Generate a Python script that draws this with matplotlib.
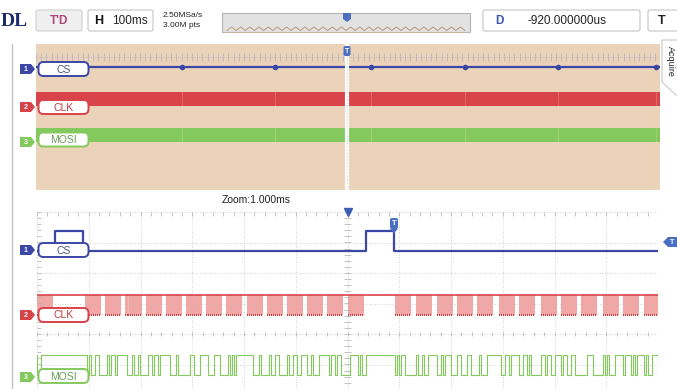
import matplotlib.pyplot as plt
import numpy as np
from matplotlib.patches import FancyBboxPatch, Rectangle, Polygon

plt.rcParams['font.family'] = ['Liberation Sans', 'DejaVu Sans']

# main window: 100 ms/div, 12 divisions
main_trigger_ms = 598
cs_pulse_ms = [281, 460, 644, 825, 1004, 1192]

# zoom window: 100 us/div, 12 divisions
zoom_center_us = 600
zoom_trigger_us = 689
cs_high_us = [(35, 89), (635, 689)]
clk_burst_start_us = [0, 93, 132, 171, 210, 249, 288, 327, 366, 405, 444, 483, 522, 561, 600,
                      691, 732, 772, 811, 851, 892, 932, 973, 1012, 1052, 1093, 1133, 1172]
clk_burst_len_us = 31
mosi_bytes = [0x3F, 0xA6, 0x5B, 0x92, 0x6D, 0xC4, 0x31, 0x8E, 0x57, 0xE2, 0x4C, 0x99, 0x23, 0xB6,
              0x7A, 0x58, 0x93, 0x2E, 0xC6, 0x47, 0x9B, 0x34, 0xD9, 0x66, 0x1C, 0xA3, 0x75, 0x4E]

# channel positions in divisions and amplitude
ch_offset = {'CS': 2.72, 'CLK': 0.62, 'MOSI': -1.35}
ch_amp = 0.67
col_cs = '#3a47a6'
col_clk = '#d9434a'
col_mosi = '#84c95e'

W, H = 677, 389
fig = plt.figure(figsize=(W / 100, H / 100), dpi=100)
fig.patch.set_facecolor('white')


def px_axes(x0, y0, x1, y1):
    return fig.add_axes([x0 / W, (H - y1) / H, (x1 - x0) / W, (y1 - y0) / H])


# ---------- main (overview) panel ----------
up = px_axes(36, 44, 660, 190)
up.set_xlim(0, 1200)
up.set_ylim(-4, 4)
up.set_facecolor('#ebd3b9')
for s in up.spines.values():
    s.set_visible(False)
up.set_xticks([])
up.set_yticks([])

# top tick row
up.axhline(3.29, color='#b9b3c9', lw=0.6, ls=(0, (1, 1.5)))
up.vlines(np.arange(0, 1201, 10), 3.07, 3.51, color='#aaa6c4', lw=0.5, alpha=0.8)

lo_cs = ch_offset['CS']
up.plot([0, 1200], [lo_cs, lo_cs], color=col_cs, lw=1.6, solid_capstyle='butt')
up.plot(cs_pulse_ms, [lo_cs] * len(cs_pulse_ms), 'o', color=col_cs, ms=3)
for name, col in (('CLK', col_clk), ('MOSI', col_mosi)):
    lo = ch_offset[name]
    up.fill_between([0, 1200], lo - 0.04, lo + ch_amp + 0.06, color=col, lw=0)
    up.vlines(cs_pulse_ms, lo - 0.1, lo + ch_amp + 0.15, color='#f4e0d0', lw=0.5, alpha=0.35)

up.axvline(main_trigger_ms, color='white', lw=3)
up.axvline(main_trigger_ms, color='#cfcfcf', lw=0.8, ls=(0, (1, 2)))

# ---------- zoom panel ----------
lo_ax = px_axes(37, 212, 658, 456)
lo_ax.set_xlim(0, 1200)
lo_ax.set_ylim(-4, 4)
lo_ax.set_facecolor('white')
for s in lo_ax.spines.values():
    s.set_visible(False)
lo_ax.set_xticks([])
lo_ax.set_yticks([])

grid_kw = dict(color='#c4c4c4', lw=0.6, ls=(0, (1, 2)))
for gx in range(0, 1201, 100):
    lo_ax.axvline(gx, **grid_kw)
for gy in range(-4, 5):
    lo_ax.axhline(gy, **grid_kw)
minor_x = np.arange(0, 1201, 20)
minor_y = np.arange(-4, 4.01, 0.2)
lo_ax.vlines(minor_x, 3.88, 4.0, color='#b8b8b8', lw=0.6)
lo_ax.vlines(minor_x, -0.07, 0.07, color='#b8b8b8', lw=0.6)
lo_ax.hlines(minor_y, 594, 606, color='#b8b8b8', lw=0.6)
lo_ax.hlines(minor_y, 0, 8, color='#b8b8b8', lw=0.6)

# CS
cs_t = [0]
cs_v = [0]
for a, b in cs_high_us:
    cs_t += [a, a, b, b]
    cs_v += [0, 1, 1, 0]
cs_t.append(1200)
cs_v.append(0)
lo_ax.plot(cs_t, np.array(cs_v) * ch_amp + ch_offset['CS'], color=col_cs, lw=1.6)

# CLK: 8 clocks per byte, idle high
clo = ch_offset['CLK']
chi = clo + ch_amp
period = clk_burst_len_us / 8
for s in clk_burst_start_us:
    e = min(s + clk_burst_len_us, 1200)
    lo_ax.fill_between([s, e], clo, chi, color='#f4b7b5', lw=0)
    edges = s + np.arange(16) * period / 2
    lo_ax.vlines(edges[edges < 1200], clo, chi, color='#e98a8a', lw=0.5, alpha=0.5)
    lows = s + np.arange(8) * period
    lo_ax.hlines(np.full(8, clo), lows, np.minimum(lows + period / 2, 1200), color='#cc2f36', lw=1.3)
lo_ax.plot([0, 1200], [chi, chi], color=col_clk, lw=1.2)

# MOSI: idle high while CS is high
mt = [0]
mv = [1]
for s, byte in zip(clk_burst_start_us, mosi_bytes):
    for k in range(8):
        bit = (byte >> (7 - k)) & 1
        t = s + k * period
        mt += [t, t]
        mv += [mv[-1], bit]
    for a, b in cs_high_us:
        if s + clk_burst_len_us < a and (s + clk_burst_len_us + 20) > a:
            mt += [a, a]
            mv += [mv[-1], 1]
mt.append(1200)
mv.append(mv[-1])
mt = np.array(mt)
lo_ax.plot(mt, np.array(mv) * ch_amp + ch_offset['MOSI'], color=col_mosi, lw=0.8)

lo_ax.plot([zoom_center_us], [4.0], marker='v', color='#3a5fb5', ms=6, clip_on=False)

# ---------- interface overlay in pixel units ----------
ui = fig.add_axes([0, 0, 1, 1], zorder=10)
ui.set_xlim(0, W)
ui.set_ylim(H, 0)
ui.axis('off')
ui.patch.set_alpha(0)


def box(x0, y0, x1, y1, fc='white', ec='#c4c4c4', r=2, lw=0.8):
    ui.add_patch(FancyBboxPatch((x0, y0), x1 - x0, y1 - y0,
                                boxstyle=f'round,pad=0,rounding_size={r}',
                                fc=fc, ec=ec, lw=lw))


ui.text(1, 21, 'DL', fontsize=14, fontweight='bold', family='Liberation Serif',
        color='#1d2b6b', va='center', ha='left')
box(36, 10, 82, 31, fc='#efefef', ec='#cfcfcf')
ui.text(59, 20.5, "T'D", fontsize=8.5, fontweight='bold', color='#b2457d', ha='center', va='center')
box(88, 10, 153, 31)
ui.text(94, 20.5, 'H', fontsize=9, fontweight='bold', color='#111111', va='center')
ui.text(112, 21, '100ms', fontsize=8.5, color='#222222', va='center')
ui.text(163, 15, '2.50MSa/s', fontsize=6, color='#222222', va='center')
ui.text(163, 25, '3.00M pts', fontsize=6, color='#222222', va='center')

ui.add_patch(Rectangle((222, 13), 248, 19, fc='#e2e2e2', ec='#b4b4b4', lw=0.8))
zig_x = np.linspace(227, 465, 53)
zig_y = np.where(np.arange(53) % 2 == 0, 30.5, 27.0)
ui.plot(zig_x, zig_y, color='#b89a78', lw=0.7)
ui.plot([227, 465], [31.5, 31.5], color='#cdb598', lw=0.6)
ui.add_patch(Polygon([[343, 13], [351, 13], [351, 19], [347, 22], [343, 19]], closed=True,
                     fc='#4a6fc0', ec='none'))

box(483, 10, 640, 31)
ui.text(495, 20.5, 'D', fontsize=8.5, fontweight='bold', color='#3a52b3', va='center')
ui.text(567, 21, '-920.000000us', fontsize=8.5, color='#222222', va='center', ha='center')
box(648, 10, 690, 31)
ui.text(658, 20.5, 'T', fontsize=9, fontweight='bold', color='#222222', va='center')

# side tab
ui.add_patch(Polygon([[662, 40], [680, 40], [680, 95], [676, 95], [662, 82]], closed=True,
                     fc='white', ec='#c8c8c8', lw=0.8))
ui.text(670, 61, 'Acquire', fontsize=6.5, rotation=-90, color='#222222', ha='center', va='center')

ui.plot([12, 12], [44, H], color='#c2c2c2', lw=1)

# trigger markers
ui.add_patch(FancyBboxPatch((343.5, 46), 7, 10, boxstyle='round,pad=0,rounding_size=2',
                            fc='#4a6fc0', ec='none'))
ui.text(347, 51.5, 'T', fontsize=5, color='white', ha='center', va='center', fontweight='bold')
ui.add_patch(FancyBboxPatch((390, 218), 8, 11, boxstyle='round,pad=0,rounding_size=2',
                            fc='#4a6fc0', ec='none'))
ui.text(394, 223.5, 'T', fontsize=5.5, color='white', ha='center', va='center', fontweight='bold')
ui.add_patch(Polygon([[390, 229], [398, 229], [394, 233]], closed=True, fc='#4a6fc0', ec='none'))
ui.add_patch(Polygon([[663, 242], [668, 237], [680, 237], [680, 247], [668, 247]], closed=True,
                     fc='#4a6fc0', ec='none'))
ui.text(672, 242, 'T', fontsize=5, color='white', ha='center', va='center', fontweight='bold')

ui.text(256, 200, 'Zoom:1.000ms', fontsize=7.5, color='#222222', ha='center', va='center')

# channel labels
labels = [
    ('CS', '1', col_cs, '#4b5685', 69, 69),
    ('CLK', '2', col_clk, '#c23a40', 107, 107),
    ('MOSI', '3', col_mosi, '#6b9a55', 139.5, 142),
    ('CS', '1', col_cs, '#4b5685', 250, 250),
    ('CLK', '2', col_clk, '#c23a40', 315, 315),
    ('MOSI', '3', col_mosi, '#6b9a55', 376, 377),
]
for name, num, col, tcol, yc, ym in labels:
    box(38.5, yc - 7, 88.5, yc + 7, fc='white', ec=col, r=5, lw=1.4)
    ui.text(63.5, yc + 0.5, name, fontsize=7.5, color=tcol, ha='center', va='center')
    ui.add_patch(Polygon([[20, ym - 5], [31, ym - 5], [35, ym], [31, ym + 5], [20, ym + 5]],
                         closed=True, fc=col, ec='none'))
    ui.text(26, ym + 0.3, num, fontsize=5, color='white', ha='center', va='center', fontweight='bold')

fig.savefig('out.png', dpi=100)
